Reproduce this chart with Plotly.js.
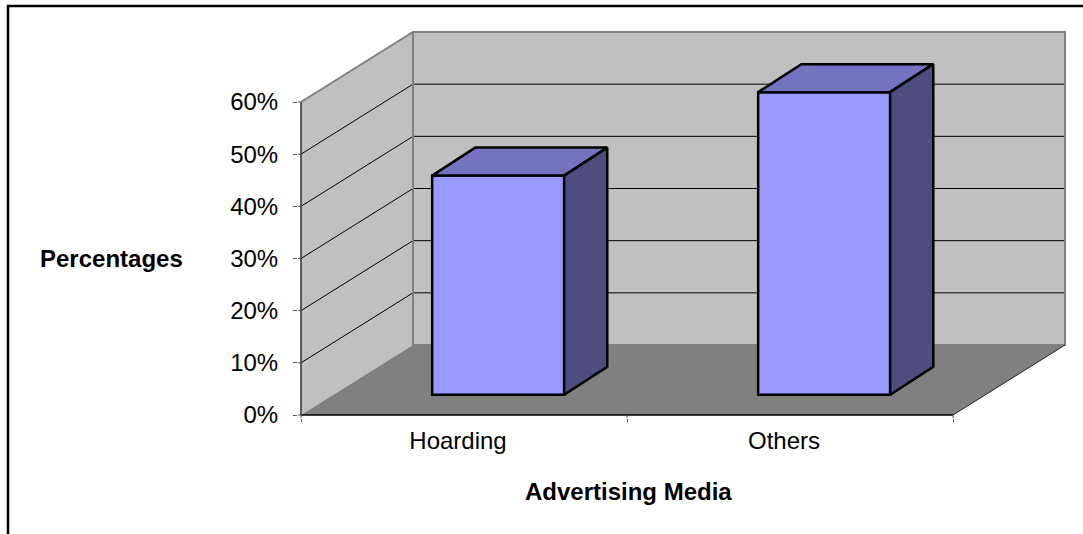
<!DOCTYPE html>
<html>
<head>
<meta charset="utf-8">
<script src="https://cdn.plot.ly/plotly-3.0.1.min.js"></script>
<style>html,body{margin:0;padding:0;background:#fff;overflow:hidden}#chart{width:1083px;height:534px}</style>
</head>
<body>
<div id="chart"></div>
<script>
const categories = ["Hoarding", "Others"];
const values = [42, 58];
const yTicks = [0, 10, 20, 30, 40, 50, 60];
const yTickLabels = ["0%", "10%", "20%", "30%", "40%", "50%", "60%"];
const xTitle = "Advertising Media";
const yTitle = "Percentages";

// Oblique projection of the pseudo-3D box, in axis units
const W = 1083, H = 534, L = 301, R = 1066, T = 32, B = 415, PAD = 3;
const pxPerCat = 326, pxPerPct = 313 / 60;
const depthX = 112 / pxPerCat, depthY = 70 / pxPerPct;
const barWidth = 132 / pxPerCat;
const barStartX = 0.305, barStartY = 0.29, barSpanX = 0.385, barSpanY = 0.40;
const xMax = categories.length;
const yMax = yTicks[yTicks.length - 1];
const X = (c, d) => c + d * depthX;
const Y = (v, d) => v + d * depthY;
const path = pts => "M" + pts.map(p => p[0] + "," + p[1]).join("L") + "Z";
const open = pts => "M" + pts.map(p => p[0] + "," + p[1]).join("L");

const shapes = [];
// walls and floor
shapes.push({type:"path", layer:"below", xref:"x", yref:"y", fillcolor:"#C0C0C0", line:{width:0},
  path:path([[X(0,0),Y(0,0)],[X(0,1),Y(0,1)],[X(0,1),Y(yMax,1)],[X(0,0),Y(yMax,0)]])});
shapes.push({type:"path", layer:"below", xref:"x", yref:"y", fillcolor:"#C0C0C0", line:{width:0},
  path:path([[X(0,1),Y(0,1)],[X(xMax,1),Y(0,1)],[X(xMax,1),Y(yMax,1)],[X(0,1),Y(yMax,1)]])});
shapes.push({type:"path", layer:"below", xref:"x", yref:"y", fillcolor:"#808080", line:{width:0},
  path:path([[X(0,0),Y(0,0)],[X(xMax,0),Y(0,0)],[X(xMax,1),Y(0,1)],[X(0,1),Y(0,1)]])});
// gridlines
yTicks.slice(1, -1).forEach(v => {
  shapes.push({type:"path", layer:"below", xref:"x", yref:"y", line:{color:"#000", width:1},
    path:open([[X(0,0),Y(v,0)],[X(0,1),Y(v,1)],[X(xMax,1),Y(v,1)]])});
});
// grey wall borders
shapes.push({type:"path", layer:"below", xref:"x", yref:"y", line:{color:"#808080", width:2},
  path:open([[X(0,0),Y(yMax,0)],[X(0,1),Y(yMax,1)],[X(xMax,1),Y(yMax,1)],[X(xMax,1),Y(0,1)],[X(0,1),Y(0,1)],[X(0,1),Y(yMax,1)]])});
// floor right edge, base line, left axis line
shapes.push({type:"path", layer:"below", xref:"x", yref:"y", line:{color:"#222", width:1},
  path:open([[X(xMax,1),Y(0,1)],[X(xMax,0),Y(0,0)]])});
shapes.push({type:"path", layer:"below", xref:"x", yref:"y", line:{color:"#000", width:1.5},
  path:open([[X(0,0),Y(0,0)],[X(xMax,0),Y(0,0)]])});
shapes.push({type:"path", layer:"below", xref:"x", yref:"y", line:{color:"#333", width:1.5},
  path:open([[X(0,0),Y(0,0)],[X(0,0),Y(yMax,0)]])});
// tick stubs joining the outside ticks to the axis lines across the plot padding
yTicks.forEach(v => shapes.push({type:"path", layer:"below", xref:"x", yref:"y", line:{color:"#555", width:1},
  path:open([[-PAD/pxPerCat,v],[0,v]])}));
[0, 1, 2].forEach(c => shapes.push({type:"path", layer:"below", xref:"x", yref:"y", line:{color:"#555", width:1},
  path:open([[c,-PAD/pxPerPct],[c,0]])}));
// outer frame: open on the right and bottom
const px = v => (v - (L - PAD)) / (R - L + 2 * PAD), py = v => (B + PAD - v) / (B - T + 2 * PAD);
shapes.push({type:"path", layer:"above", xref:"paper", yref:"paper", line:{color:"#000", width:2.5},
  path:open([[px(8),py(H+3)],[px(8),py(6)],[px(W+3),py(6)]])});

const barX = categories.map((c, i) => i + 0.5 + barStartX * depthX);
const barBase = barStartY * depthY;
const frontTrace = {type:"bar", x:barX, y:values, base:values.map(() => barBase),
  width:values.map(() => barWidth), marker:{color:"#9999FF", line:{color:"#000", width:2.5}},
  hoverinfo:"skip", showlegend:false};

const faces = [];
categories.forEach((c, i) => {
  const xl = barX[i] - barWidth / 2, xr = barX[i] + barWidth / 2;
  const v = values[i] + barBase;
  const dx = barSpanX * depthX, dy = barSpanY * depthY;
  const top = [[xl,v],[xl+dx,v+dy],[xr+dx,v+dy],[xr,v],[xl,v]];
  const side = [[xr,v],[xr+dx,v+dy],[xr+dx,barBase+dy],[xr,barBase],[xr,v]];
  faces.push({type:"scatter", mode:"lines", x:top.map(p=>p[0]), y:top.map(p=>p[1]), fill:"toself",
    fillcolor:"#7373BF", line:{color:"#000", width:2.5}, hoverinfo:"skip", showlegend:false});
  faces.push({type:"scatter", mode:"lines", x:side.map(p=>p[0]), y:side.map(p=>p[1]), fill:"toself",
    fillcolor:"#4D4D80", line:{color:"#000", width:2.5}, hoverinfo:"skip", showlegend:false});
});

const font = {family:"'Liberation Sans', Arial, sans-serif", color:"#000", size:24};
const layout = {
  width:W, height:H, showlegend:false, paper_bgcolor:"#fff", plot_bgcolor:"rgba(0,0,0,0)",
  margin:{l:L-PAD, r:W-R-PAD, t:T-PAD, b:H-B-PAD, pad:0}, font:font, shapes:shapes, barmode:"overlay",
  xaxis:{range:[-PAD/pxPerCat,(R-L+PAD)/pxPerCat], tickmode:"array", tickvals:categories.map((c,i)=>i+0.5), ticktext:categories,
    ticks:"", showgrid:false, zeroline:false, showline:false, tickfont:font, automargin:false,
    ticklabelstandoff:6, ticklabelshift:-6,
    minor:{tickmode:"array", tickvals:[0,1,2], ticks:"outside", ticklen:3, tickwidth:1, tickcolor:"#555", showgrid:false}},
  yaxis:{range:[-PAD/pxPerPct,(B-T+PAD)/pxPerPct], tickmode:"array", tickvals:yTicks, ticktext:yTickLabels,
    ticks:"outside", ticklen:4, tickwidth:1, tickcolor:"#555", showgrid:false, zeroline:false, showline:false,
    tickfont:font, automargin:false, ticklabelstandoff:10},
  annotations:[
    {xref:"paper", yref:"paper", x:px(111), y:py(258), text:yTitle, showarrow:false, xanchor:"center", yanchor:"middle",
     font:{family:font.family, size:24, color:"#000", weight:700}},
    {xref:"paper", yref:"paper", x:px(628.5), y:py(492), text:xTitle, showarrow:false, xanchor:"center", yanchor:"middle",
     font:{family:font.family, size:24, color:"#000", weight:700}}
  ]
};
Plotly.newPlot("chart", [frontTrace].concat(faces), layout, {displayModeBar:false, staticPlot:true});
</script>
</body>
</html>
